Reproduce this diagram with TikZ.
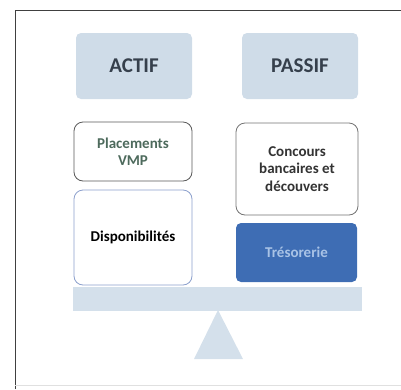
\documentclass[tikz,border=0pt]{standalone}
\usepackage{fontspec}
\setmainfont{Carlito}
\begin{document}
\begin{tikzpicture}[x=1pt,y=-1pt,
  head/.style={fill=headfill, rounded corners=5pt, text=headtext, font=\fontsize{21}{23}\selectfont\bfseries},
  whitebox/.style={fill=white, draw=#1, line width=0.8pt, rounded corners=9pt, align=center, font=\fontsize{15}{17.5}\selectfont\bfseries},
  bluebox/.style={fill=tresfill, rounded corners=5pt, text=trestext, font=\fontsize{15}{17.5}\selectfont\bfseries}]
\definecolor{headfill}{HTML}{CFDCE8}
\definecolor{headtext}{HTML}{36404C}
\definecolor{tresfill}{HTML}{3E6DB4}
\definecolor{trestext}{HTML}{A9C3E6}
\definecolor{beamfill}{HTML}{D4E0EB}
\definecolor{greentext}{HTML}{4D6A5C}
\definecolor{dispoline}{HTML}{8CA0CD}
\useasboundingbox (0,0) rectangle (401,389);
% frame
\draw[line width=1pt, color=black!75] (15,389) -- (15,10) -- (401,10);
\draw[line width=0.6pt, color=black!12] (15,385) -- (401,385);
% headers
\node[head, minimum width=116pt, minimum height=66pt] (actif) at (134,66) {ACTIF};
\node[head, minimum width=116pt, minimum height=66pt] (passif) at (300,66) {PASSIF};
% actif side
\node[whitebox=black!65, minimum width=118pt, minimum height=59pt, text=greentext] (plac) at (133,151.5) {Placements\\VMP};
\node[whitebox=dispoline, minimum width=118pt, minimum height=95pt] (dispo) at (133,237.5) {Disponibilités};
% passif side
\node[whitebox=black!55, minimum width=122pt, minimum height=92pt, text=black!80] (conc) at (297,169) {Concours\\bancaires et\\découvers};
\node[bluebox, minimum width=121pt, minimum height=59pt] (tres) at (296.5,252.5) {Trésorerie};
% balance
\node[fill=beamfill, minimum width=289pt, minimum height=24pt, inner sep=0pt] (beam) at (217.5,299) {};
\coordinate (apex) at (218,310);
\coordinate (bl) at (194,359);
\coordinate (br) at (243,359);
\fill[beamfill] (apex) -- (br) -- (bl) -- cycle;
\end{tikzpicture}
\end{document}
